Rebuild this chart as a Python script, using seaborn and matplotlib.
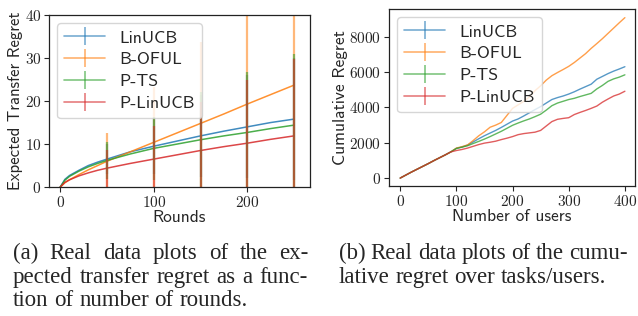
import numpy as np
import pandas as pd
import seaborn as sns
from matplotlib import pyplot as plt

# ---- Daten ----
namen = ['LinUCB', 'B-OFUL', 'P-TS', 'P-LinUCB']
farben = ['#1f77b4', '#ff7f0e', '#2ca02c', '#d62728']

# (a) erwarteter Transfer-Regret ueber Runden
runden = [0, 5, 10, 20, 30, 40, 50, 75, 100, 125, 150, 175, 200, 225, 250]
regret_linucb = [0, 1.8, 2.7, 3.9, 5.0, 5.8, 6.5, 8.2, 9.5, 10.7, 11.9, 13.0, 14.0, 15.0, 15.8]
regret_bofUL = [0, 1.0, 1.7, 2.9, 4.0, 5.0, 6.0, 8.2, 10.4, 12.6, 14.8, 17.0, 19.3, 21.5, 23.7]
regret_pts = [0, 1.6, 2.5, 3.7, 4.7, 5.5, 6.2, 7.7, 9.0, 10.0, 11.0, 11.9, 12.7, 13.6, 14.4]
regret_plinucb = [0, 1.1, 1.7, 2.6, 3.3, 3.9, 4.4, 5.5, 6.5, 7.5, 8.5, 9.4, 10.2, 11.1, 11.9]

fehler_runden = [50, 100, 150, 200, 250]
fehler_linucb = [3.5, 6.5, 9.6, 12.0, 14.2]
fehler_bofUL = [6.5, 12.8, 18.9, 26.0, 30.0]
fehler_pts = [4.3, 7.3, 11.0, 14.1, 16.6]
fehler_plinucb = [4.3, 7.8, 11.2, 14.8, 17.9]

# (b) kumulativer Regret ueber Nutzer
nutzer = list(range(0, 401, 10))
gemeinsam = [0, 170, 340, 500, 660, 820, 990, 1150, 1310, 1480]
kum_linucb = gemeinsam + [1680, 1760, 1870, 2050, 2230, 2400, 2550, 2700, 2870, 3050,
                          3230, 3350, 3520, 3700, 3880, 4050, 4250, 4450, 4560, 4650,
                          4760, 4890, 5040, 5180, 5320, 5600, 5760, 5920, 6060, 6180, 6310]
kum_bofUL = gemeinsam + [1700, 1780, 1880, 2130, 2400, 2620, 2880, 3000, 3150, 3550,
                         3950, 4150, 4350, 4600, 4950, 5230, 5550, 5800, 5980, 6150,
                         6330, 6550, 6800, 7050, 7350, 7620, 7900, 8200, 8500, 8800, 9090]
kum_pts = gemeinsam + [1680, 1750, 1830, 1960, 2080, 2210, 2350, 2500, 2650, 2820,
                       2990, 3120, 3240, 3350, 3480, 3620, 3850, 4100, 4250, 4350,
                       4450, 4520, 4620, 4710, 4800, 5050, 5250, 5480, 5620, 5720, 5850]
kum_plinucb = gemeinsam + [1560, 1620, 1700, 1800, 1900, 1980, 2030, 2090, 2180, 2260,
                           2350, 2460, 2520, 2560, 2600, 2700, 2950, 3200, 3330, 3380,
                           3420, 3600, 3720, 3830, 3950, 4080, 4300, 4480, 4650, 4760, 4920]

df_a = pd.DataFrame({'runde': runden, 'LinUCB': regret_linucb, 'B-OFUL': regret_bofUL,
                     'P-TS': regret_pts, 'P-LinUCB': regret_plinucb})
df_b = pd.DataFrame({'nutzer': nutzer, 'LinUCB': kum_linucb, 'B-OFUL': kum_bofUL,
                     'P-TS': kum_pts, 'P-LinUCB': kum_plinucb})
fehler = {'LinUCB': fehler_linucb, 'B-OFUL': fehler_bofUL,
          'P-TS': fehler_pts, 'P-LinUCB': fehler_plinucb}

sns.set_style('ticks')
plt.rcParams['axes.formatter.use_mathtext'] = True
plt.rcParams['axes.edgecolor'] = '#222222'

fig = plt.figure(figsize=(6.38, 3.16), dpi=100)
ax1 = fig.add_axes([0.0768, 0.408, 0.409, 0.5445])
ax2 = fig.add_axes([0.6097, 0.4114, 0.3856, 0.5601])

# linke Abbildung
for name, c in zip(namen, farben):
    sns.lineplot(data=df_a, x='runde', y=name, color=c, ax=ax1, linewidth=1.1,
                 alpha=0.85, legend=False)
for name, c in zip(namen, farben):
    mitte = df_a.set_index('runde').loc[fehler_runden, name].values
    ax1.errorbar(fehler_runden, mitte, yerr=fehler[name], fmt='none',
                 ecolor=c, elinewidth=1.6, alpha=0.55)

# rechte Abbildung
for name, c in zip(namen, farben):
    sns.lineplot(data=df_b, x='nutzer', y=name, color=c, ax=ax2, linewidth=1.0,
                 alpha=0.75, legend=False)

# Legenden mit Fehlerbalken-Symbol
for ax in (ax1, ax2):
    griffe = []
    for name, c in zip(namen, farben):
        h = ax.errorbar([np.nan], [np.nan], yerr=[1], color=c, alpha=0.6,
                        linewidth=1.2, label=name)
        griffe.append(h)
    ax.legend(handles=griffe, labels=namen, loc='upper left',
              prop={'family': 'cmss10', 'size': 12.8}, handlelength=2.3,
              borderaxespad=0.45, labelspacing=0.36, handletextpad=0.8,
              framealpha=0.8)

ax1.set_xlim(-12, 267)
ax1.set_ylim(0, 40)
ax1.set_xticks([0, 100, 200])
ax1.set_yticks([0, 10, 20, 30, 40])
ax1.set_xlabel('Rounds', family='cmss10', fontsize=12.5, labelpad=0)
ax1.set_ylabel('Expected Transfer Regret', family='cmss10', fontsize=12, labelpad=1)

ax2.set_xlim(-20, 418)
ax2.set_ylim(-450, 9580)
ax2.set_xticks([0, 100, 200, 300, 400])
ax2.set_yticks([0, 2000, 4000, 6000, 8000])
ax2.set_xlabel('Number of users', family='cmss10', fontsize=12.5, labelpad=0)
ax2.set_ylabel('Cumulative Regret', family='cmss10', fontsize=12.5, labelpad=1)

for ax in (ax1, ax2):
    ax.tick_params(labelsize=11, length=3.5, pad=2)
    for lbl in ax.get_xticklabels() + ax.get_yticklabels():
        lbl.set_fontfamily('cmr10')
    for s in ax.spines.values():
        s.set_linewidth(0.9)

# Bildunterschriften, Blocksatz von Hand
serif = {'family': 'Liberation Serif', 'size': 16.5}
renderer = fig.canvas.get_renderer()


def zeile(text, x0, x1, y, blocksatz=True):
    woerter = text.split()
    objs = [fig.text(0, y, w, **serif) for w in woerter]
    breiten = [o.get_window_extent(renderer).width / fig.bbox.width for o in objs]
    if blocksatz and len(objs) > 1:
        luecke = (x1 - x0 - sum(breiten)) / (len(objs) - 1)
    else:
        luecke = 0.25 * serif['size'] / 72 * fig.dpi / fig.bbox.width
    x = x0
    for o, b in zip(objs, breiten):
        o.set_x(x)
        x += b + luecke


zeile('(a) Real data plots of the ex-', 0.0204, 0.4828, 0.180)
zeile('pected transfer regret as a func-', 0.0204, 0.4828, 0.1044)
zeile('tion of number of rounds.', 0.0204, 0.4828, 0.0316, blocksatz=False)
zeile('(b) Real data plots of the cumu-', 0.531, 0.984, 0.180)
zeile('lative regret over tasks/users.', 0.531, 0.984, 0.1044, blocksatz=False)

plt.savefig('out.png', dpi=100)
